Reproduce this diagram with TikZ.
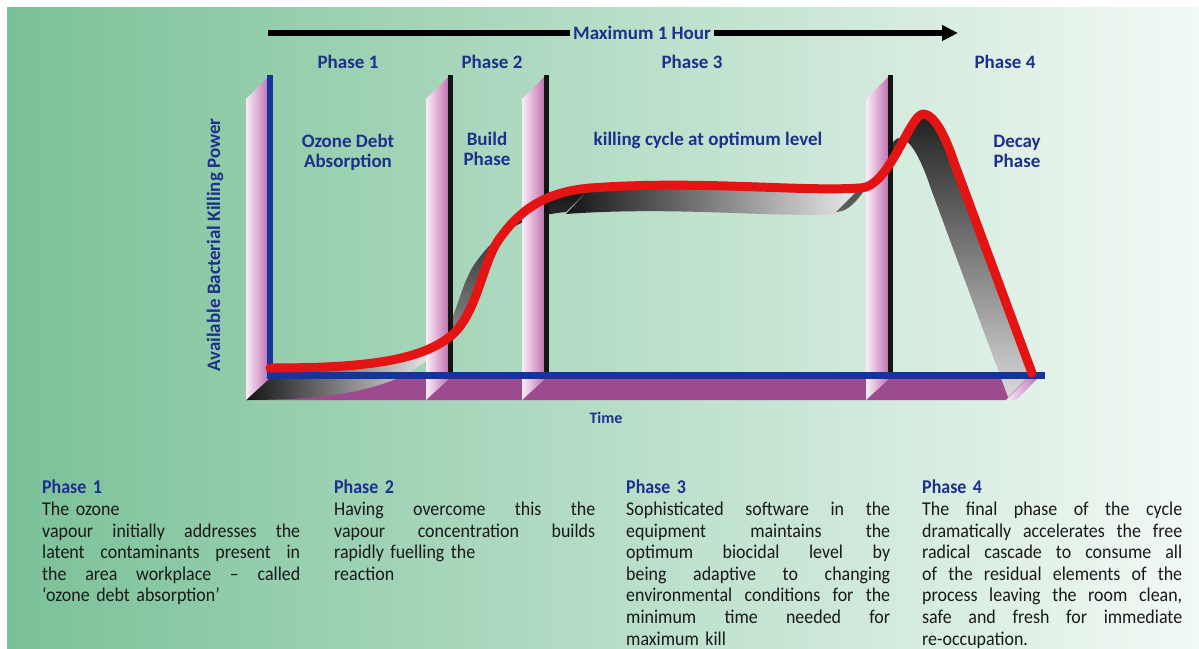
\documentclass[tikz,border=0pt]{standalone}
\usepackage{fontspec}
\setmainfont{Carlito}
\newfontfamily\bodyfont[FakeStretch=0.92,Ligatures=TeX]{Carlito}
\usetikzlibrary{arrows.meta}
\definecolor{bgL}{RGB}{122,193,152}
\definecolor{bgR}{RGB}{242,249,245}
\definecolor{navy}{RGB}{28,48,140}
\definecolor{axblue}{RGB}{22,52,158}
\definecolor{floorc}{RGB}{157,75,143}
\definecolor{pinkL}{RGB}{250,236,247}
\definecolor{pinkR}{RGB}{188,106,172}
\definecolor{curvered}{RGB}{228,20,20}
\definecolor{bodytxt}{RGB}{25,25,25}
\newcommand{\jl}[2][260pt]{\makebox[#1][s]{\spaceskip=0.25em plus 20em\relax #2}}
\begin{document}
\begin{tikzpicture}[x=1pt,y=-1pt,
  lbl/.style={text=navy,font=\fontsize{19}{20}\selectfont\bfseries,inner sep=0pt,align=center},
  wallface/.style={left color=pinkL,right color=pinkR},
  divider/.style={line width=5pt,black!92},
  axisline/.style={line width=7pt,axblue},
  curveline/.style={line width=9pt,curvered,line cap=round,line join=round},
  coltext/.style={text=bodytxt,font=\bodyfont\fontsize{19.5}{21.6}\selectfont,text width=266pt,align=left,anchor=north west,inner sep=0pt},
  arrowline/.style={line width=6pt,black}
]
\useasboundingbox (0,0) rectangle (1199,648);
% background
\fill[white] (0,0) rectangle (1199,648);
\shade[left color=bgL,right color=bgR] (7,7) rectangle (1199,648);

% floor
\fill[floorc] (270,376) -- (1030,376) -- (1006,400) -- (246,400) -- cycle;
\shade[wallface] (1006,400) -- (1030,376) -- (1040,376) -- (1016,400) -- cycle;

% ribbon shadows
\shade[left color=black!92,right color=white] (270,368) .. controls (360,368) and (420,362) .. (452,335)
  -- (428,359) .. controls (396,388) and (336,400) .. (246,400) -- cycle;
\shade[top color=black!92,bottom color=gray!80] (452,335) .. controls (478,312) and (482,262) .. (500,238)
  .. controls (520,210) and (545,192) .. (590,188) -- (566,212) .. controls (521,216) and (496,234) .. (476,262)
  .. controls (458,286) and (454,336) .. (428,359) -- cycle;
\shade[left color=black!92,right color=white!85!gray] (590,188) .. controls (700,180) and (800,192) .. (860,188)
  -- (836,214) .. controls (776,218) and (676,206) .. (566,214) -- cycle;
\shade[top color=black!88,bottom color=white!70!gray] (860,188) .. controls (890,188) and (910,112) .. (924,114)
  .. controls (935,116) and (945,135) .. (955,165) -- (1032,373) -- (1008,397) -- (931,189)
  .. controls (921,159) and (911,140) .. (900,138) .. controls (886,136) and (866,212) .. (836,212) -- cycle;

% walls
\shade[wallface] (246,99) -- (268,77) -- (270,378) -- (246,400) -- cycle;
\shade[wallface] (426,99) -- (448,77) -- (450,378) -- (426,400) -- cycle;
\shade[wallface] (522,99) -- (544,77) -- (546,378) -- (522,400) -- cycle;
\shade[wallface] (866,99) -- (888,77) -- (890,378) -- (866,400) -- cycle;

% dividers and axes
\coordinate (d1t) at (450,75); \coordinate (d1b) at (450,372);
\coordinate (d2t) at (546,75); \coordinate (d2b) at (546,372);
\coordinate (d3t) at (890,75); \coordinate (d3b) at (890,372);
\draw[divider] (d1t) -- (d1b);
\draw[divider] (d2t) -- (d2b);
\draw[divider] (d3t) -- (d3b);
\coordinate (yt) at (270,75); \coordinate (org) at (270,378);
\coordinate (xe) at (1045,375);
\draw[line width=6pt,axblue] (yt) -- (org);
\draw[axisline] (267,375) -- (xe);

% red curve
\draw[curveline] (270,368) .. controls (360,368) and (420,362) .. (452,335)
  .. controls (478,312) and (482,262) .. (500,238)
  .. controls (520,210) and (545,192) .. (590,188)
  .. controls (700,180) and (800,192) .. (860,188)
  .. controls (890,188) and (910,112) .. (924,114)
  .. controls (935,116) and (945,135) .. (955,165)
  -- (1032,373);

% top arrow
\node[lbl] (mh) at (642,33) {Maximum 1 Hour};
\coordinate (arS) at (268,33);
\coordinate (arE) at (958,33);
\draw[arrowline] (arS) -- ([xshift=-3pt]mh.west);
\draw[arrowline,-{Triangle[length=16pt,width=15pt]}] ([xshift=3pt]mh.east) -- (arE);

% chart labels
\node[lbl] (p1) at (348,62) {Phase 1};
\node[lbl] (p2) at (492,62) {Phase 2};
\node[lbl] (p3) at (692,62) {Phase 3};
\node[lbl] (p4) at (1005,62) {Phase 4};
\node[lbl] (ozd) at (348,152) {Ozone Debt\\Absorption};
\node[lbl] (bld) at (487,149) {Build\\Phase};
\node[lbl] (kil) at (708,140) {killing cycle at optimum level};
\node[lbl] (dec) at (1017,151) {Decay\\Phase};
\node[lbl,font=\fontsize{16}{18}\selectfont\bfseries] (time) at (606,418) {Time};
\node[lbl,rotate=90] (ylab) at (215,245) {Available Bacterial Killing Power};

% bottom text columns
\node[coltext] (c1) at (42,480) {{\bfseries\color{navy}Phase 1}\\
The ozone\\
\jl[258pt]{vapour initially addresses the}\\
\jl[258pt]{latent contaminants present in}\\
\jl[258pt]{the area workplace – called}\\
‘ozone debt absorption’};
\node[coltext] (c2) at (334,480) {{\bfseries\color{navy}Phase 2}\\
\jl[261pt]{Having overcome this the}\\
\jl[261pt]{vapour concentration builds}\\
rapidly fuelling the\\
reaction};
\node[coltext] (c3) at (626,480) {{\bfseries\color{navy}Phase 3}\\
\jl[264pt]{Sophisticated software in the}\\
\jl[264pt]{equipment maintains the}\\
\jl[264pt]{optimum biocidal level by}\\
\jl[264pt]{being adaptive to changing}\\
\jl[264pt]{environmental conditions for the}\\
\jl[264pt]{minimum time needed for}\\
maximum kill};
\node[coltext] (c4) at (922,480) {{\bfseries\color{navy}Phase 4}\\
\jl[260pt]{The final phase of the cycle}\\
\jl[260pt]{dramatically accelerates the free}\\
\jl[260pt]{radical cascade to consume all}\\
\jl[260pt]{of the residual elements of the}\\
\jl[260pt]{process leaving the room clean,}\\
\jl[260pt]{safe and fresh for immediate}\\
re-occupation.};
\end{tikzpicture}
\end{document}
